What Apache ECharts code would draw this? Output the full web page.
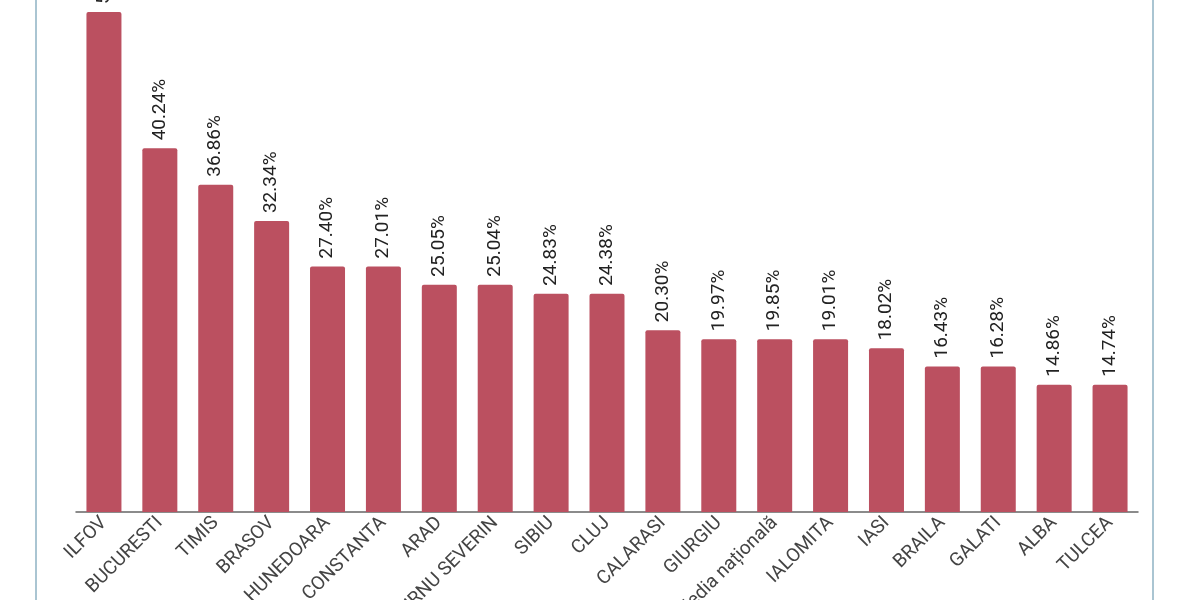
<!DOCTYPE html>
<html><head><meta charset="utf-8">
<script src="https://cdn.jsdelivr.net/npm/echarts@6/dist/echarts.min.js"></script>
<style>html,body{margin:0;padding:0;background:#fff}#c{width:1200px;height:600px}</style>
</head><body><div id="c"></div>
<script>
const categories = ["ILFOV","BUCURESTI","TIMIS","BRASOV","HUNEDOARA","CONSTANTA","ARAD","DROBETA-TURNU SEVERIN","SIBIU","CLUJ","CALARASI","GIURGIU","Media națională","IALOMITA","IASI","BRAILA","GALATI","ALBA","TULCEA"];
const barValues = [55,40,36,32,27,27,25,25,24,24,20,19,19,19,18,16,16,14,14];
const labels = ["55.40%","40.24%","36.86%","32.34%","27.40%","27.01%","25.05%","25.04%","24.83%","24.38%","20.30%","19.97%","19.85%","19.01%","18.02%","16.43%","16.28%","14.86%","14.74%"];
const chart = echarts.init(document.getElementById('c'));
chart.setOption({
  animation:false,
  graphic:[{type:'rect',shape:{x:36,y:-5,width:1117,height:620},style:{fill:'none',stroke:'#8fb3c4',lineWidth:1.5},silent:true}],
  grid:{left:76,right:62,top:12,bottom:88,containLabel:false,outerBoundsMode:'none'},
  xAxis:{type:'category',data:categories,
    axisLine:{lineStyle:{color:'#666',width:1.5}},axisTick:{show:false},
    axisLabel:{rotate:45,interval:0,color:'#444',fontSize:19,fontFamily:'Roboto',margin:8}},
  yAxis:{type:'value',min:0,max:55,show:false,splitLine:{show:false}},
  series:[{type:'bar',data:barValues,barWidth:35,
    itemStyle:{color:'#bb5060',borderRadius:[2,2,0,0]},
    label:{show:true,position:'top',rotate:90,align:'left',verticalAlign:'middle',distance:8,
      color:'#222',fontSize:19,fontFamily:'Roboto',
      formatter:p=>labels[p.dataIndex]}}]
});
</script></body></html>
